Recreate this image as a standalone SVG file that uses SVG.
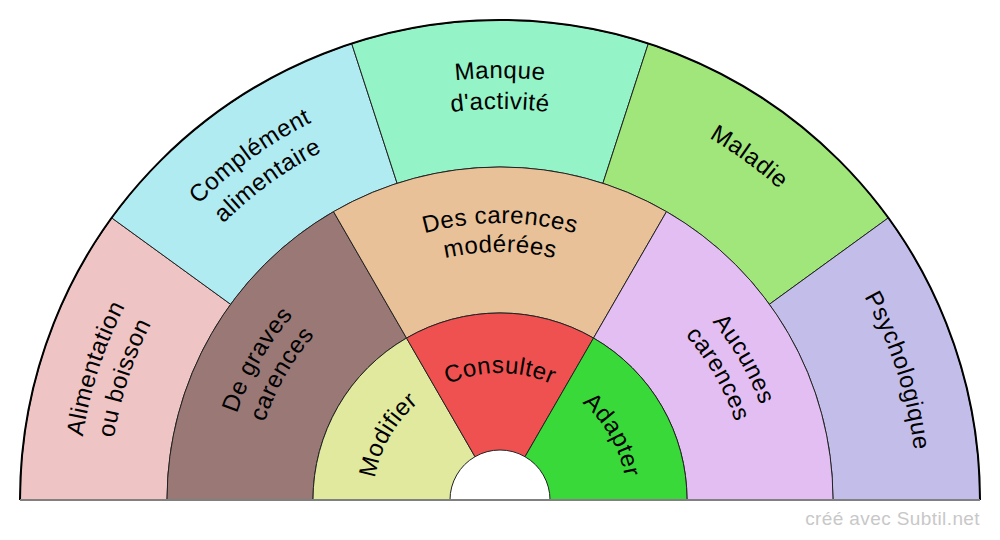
<svg xmlns="http://www.w3.org/2000/svg" width="1000" height="540" viewBox="0 0 1000 540">
<style>
.seg{stroke:#222;stroke-width:1}
.lbl{font-family:"Liberation Sans",Arial,sans-serif;font-size:24px;letter-spacing:0.5px;fill:#000;text-anchor:middle}
.wm{font-family:"Liberation Sans",Arial,sans-serif;font-size:19px;letter-spacing:0.4px;fill:#c8c8c8;text-anchor:end}
</style>
<defs>
<path id="p1a" d="M108.73,658.09 A422,422 0 0 1 276.37,142.12"/>
<path id="p1b" d="M137.47,646.47 A391,391 0 0 1 292.80,168.41"/>
<path id="p2a" d="M90.53,397.91 A422,422 0 0 1 529.44,79.03"/>
<path id="p2b" d="M120.61,405.41 A391,391 0 0 1 527.28,109.95"/>
<path id="p3a" d="M228.74,176.73 A422,422 0 0 1 771.26,176.73"/>
<path id="p3b" d="M248.67,200.48 A391,391 0 0 1 751.33,200.48"/>
<path id="p4" d="M470.84,83.02 A418,418 0 0 1 905.59,398.88"/>
<path id="p5" d="M720.98,146.36 A417,417 0 0 1 886.63,656.21"/>
<path id="m1a" d="M227.21,548.10 A277,277 0 0 1 405.26,239.71"/>
<path id="m1b" d="M255.77,543.07 A248,248 0 0 1 415.18,266.96"/>
<path id="m2a" d="M321.95,287.81 A277,277 0 0 1 678.05,287.81"/>
<path id="m2b" d="M340.59,310.02 A248,248 0 0 1 659.41,310.02"/>
<path id="m3a" d="M594.74,239.71 A277,277 0 0 1 772.79,548.10"/>
<path id="m3b" d="M584.82,266.96 A248,248 0 0 1 744.23,543.07"/>
<path id="i1" d="M374.93,522.05 A127,127 0 0 1 456.56,380.66"/>
<path id="i2" d="M418.37,402.71 A127,127 0 0 1 581.63,402.71"/>
<path id="i3" d="M543.44,380.66 A127,127 0 0 1 625.07,522.05"/>
</defs>
<rect width="1000" height="540" fill="#fff"/>

<g id="alimentation">
<path class="seg" fill="#EEC4C4" d="M20,500 A480,480 0 0 1 111.67,217.86 L230.60,304.27 A333,333 0 0 0 167,500 Z"/>
<text class="lbl"><textPath href="#p1a" startOffset="50%">Alimentation</textPath></text>
<text class="lbl"><textPath href="#p1b" startOffset="50%">ou boisson</textPath></text>
</g>
<g id="complement">
<path class="seg" fill="#B0EBF2" d="M111.67,217.86 A480,480 0 0 1 351.67,43.49 L397.10,183.30 A333,333 0 0 0 230.60,304.27 Z"/>
<text class="lbl"><textPath href="#p2a" startOffset="50%">Complément</textPath></text>
<text class="lbl"><textPath href="#p2b" startOffset="50%">alimentaire</textPath></text>
</g>
<g id="manque">
<path class="seg" fill="#94F3C7" d="M351.67,43.49 A480,480 0 0 1 648.33,43.49 L602.90,183.30 A333,333 0 0 0 397.10,183.30 Z"/>
<text class="lbl"><textPath href="#p3a" startOffset="50%">Manque</textPath></text>
<text class="lbl"><textPath href="#p3b" startOffset="50%">d'activité</textPath></text>
</g>
<g id="maladie">
<path class="seg" fill="#A0E67A" d="M648.33,43.49 A480,480 0 0 1 888.33,217.86 L769.40,304.27 A333,333 0 0 0 602.90,183.30 Z"/>
<text class="lbl"><textPath href="#p4" startOffset="50%">Maladie</textPath></text>
</g>
<g id="psychologique">
<path class="seg" fill="#C3BDEA" d="M888.33,217.86 A480,480 0 0 1 980,500 L833,500 A333,333 0 0 0 769.40,304.27 Z"/>
<text class="lbl"><textPath href="#p5" startOffset="50%">Psychologique</textPath></text>
</g>

<g id="graves">
<path class="seg" fill="#997876" d="M167,500 A333,333 0 0 1 333.5,211.61 L406.5,338.05 A187,187 0 0 0 313,500 Z"/>
<text class="lbl"><textPath href="#m1a" startOffset="50%">De graves</textPath></text>
<text class="lbl"><textPath href="#m1b" startOffset="50%">carences</textPath></text>
</g>
<g id="moderees">
<path class="seg" fill="#E8C198" d="M333.5,211.61 A333,333 0 0 1 666.5,211.61 L593.5,338.05 A187,187 0 0 0 406.5,338.05 Z"/>
<text class="lbl"><textPath href="#m2a" startOffset="50%">Des carences</textPath></text>
<text class="lbl"><textPath href="#m2b" startOffset="50%">modérées</textPath></text>
</g>
<g id="aucunes">
<path class="seg" fill="#E3BEF2" d="M666.5,211.61 A333,333 0 0 1 833,500 L687,500 A187,187 0 0 0 593.5,338.05 Z"/>
<text class="lbl"><textPath href="#m3a" startOffset="50%">Aucunes</textPath></text>
<text class="lbl"><textPath href="#m3b" startOffset="50%">carences</textPath></text>
</g>

<g id="modifier">
<path class="seg" fill="#E1E99E" d="M313,500 A187,187 0 0 1 406.5,338.05 L475,456.70 A50,50 0 0 0 450,500 Z"/>
<text class="lbl"><textPath href="#i1" startOffset="50%">Modifier</textPath></text>
</g>
<g id="consulter">
<path class="seg" fill="#EF5151" d="M406.5,338.05 A187,187 0 0 1 593.5,338.05 L525,456.70 A50,50 0 0 0 475,456.70 Z"/>
<text class="lbl"><textPath href="#i2" startOffset="50%">Consulter</textPath></text>
</g>
<g id="adapter">
<path class="seg" fill="#3AD93A" d="M593.5,338.05 A187,187 0 0 1 687,500 L550,500 A50,50 0 0 0 525,456.70 Z"/>
<text class="lbl"><textPath href="#i3" startOffset="50%">Adapter</textPath></text>
</g>

<g id="frame">
<path d="M20,500 A480,480 0 0 1 980,500" fill="none" stroke="#000" stroke-width="2"/>
<line x1="20" y1="500" x2="980" y2="500" stroke="#808080" stroke-width="2"/>
</g>
<text class="wm" x="980" y="525">créé avec Subtil.net</text>
</svg>
